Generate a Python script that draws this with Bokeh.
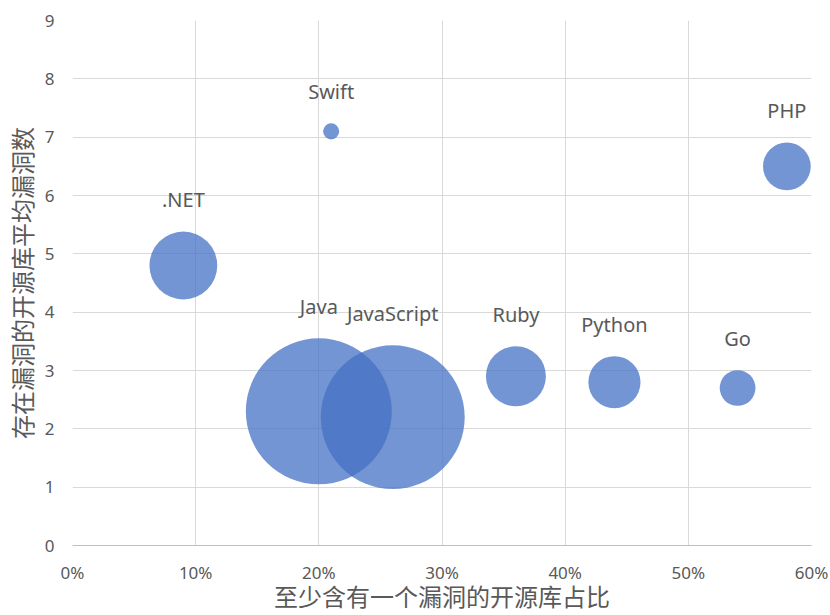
import numpy as np
from bokeh.plotting import figure
from bokeh.models import ColumnDataSource, FixedTicker, NumeralTickFormatter, Range1d
from bokeh.core.properties import value
from bokeh.embed import file_html
from bokeh.resources import INLINE

# ---- data ----
languages = [".NET", "Swift", "Java", "JavaScript", "Ruby", "Python", "Go", "PHP"]
share_with_vuln = [0.09, 0.21, 0.20, 0.26, 0.36, 0.44, 0.54, 0.58]
avg_vuln_count = [4.8, 7.1, 2.3, 2.2, 2.9, 2.8, 2.7, 6.5]
bubble_size = [1150, 65, 5330, 5180, 900, 680, 320, 570]
x_ticks = [0, 0.1, 0.2, 0.3, 0.4, 0.5, 0.6]
y_ticks = [0, 1, 2, 3, 4, 5, 6, 7, 8, 9]
x_title = "至少含有一个漏洞的开源库占比"
y_title = "存在漏洞的开源库平均漏洞数"

# ---- styling ----
GRAY = "#595959"
BLUE = "#4472C4"
MAX_R = 73
LABEL_GAP = 32

smax = max(bubble_size)
radius_px = [MAX_R * np.sqrt(s / smax) for s in bubble_size]
src = ColumnDataSource(dict(
    x=share_with_vuln,
    y=avg_vuln_count,
    name=languages,
    d=[2 * r for r in radius_px],
    off=[-(r + LABEL_GAP) for r in radius_px],
))

p = figure(width=830, height=615, output_backend="svg", toolbar_location=None,
           x_range=Range1d(0, 0.6), y_range=Range1d(0, 9),
           min_border_left=71, min_border_right=19,
           min_border_top=20, min_border_bottom=69)
p.outline_line_color = None
p.background_fill_color = "white"
p.border_fill_color = "white"

p.scatter(x="x", y="y", size="d", source=src, marker="circle",
          fill_color=BLUE, fill_alpha=0.75, line_color=None)

p.text(x="x", y="y", text="name", source=src, y_offset="off",
       text_align="center", text_baseline="alphabetic",
       text_font=value("Noto Sans"), text_font_size="20px", text_color=GRAY)

p.xaxis.ticker = FixedTicker(ticks=x_ticks)
p.xaxis.formatter = NumeralTickFormatter(format="0%")
p.yaxis.ticker = FixedTicker(ticks=y_ticks)

for ax in (p.xaxis, p.yaxis):
    ax.major_tick_line_color = None
    ax.minor_tick_line_color = None
    ax.major_tick_out = 0
    ax.major_tick_in = 0
    ax.minor_tick_out = 0
    ax.major_label_text_font = "Noto Sans"
    ax.major_label_text_font_size = "17px"
    ax.major_label_text_color = GRAY
    ax.axis_label_text_font = "Noto Sans CJK SC"
    ax.axis_label_text_font_size = "24px"
    ax.axis_label_text_font_style = "normal"
    ax.axis_label_text_color = GRAY

p.xaxis.axis_label = x_title
p.yaxis.axis_label = y_title
p.xaxis.axis_line_color = "#bfbfbf"
p.yaxis.axis_line_color = None
p.xaxis.major_label_standoff = 15
p.xaxis.axis_label_standoff = -9
p.yaxis.major_label_standoff = 18
p.yaxis.axis_label_standoff = 3

p.xgrid.ticker = FixedTicker(ticks=x_ticks)
p.ygrid.ticker = FixedTicker(ticks=y_ticks)
p.grid.grid_line_color = "#d9d9d9"
p.grid.grid_line_width = 1

open("out.html", "w").write(file_html(p, INLINE))
